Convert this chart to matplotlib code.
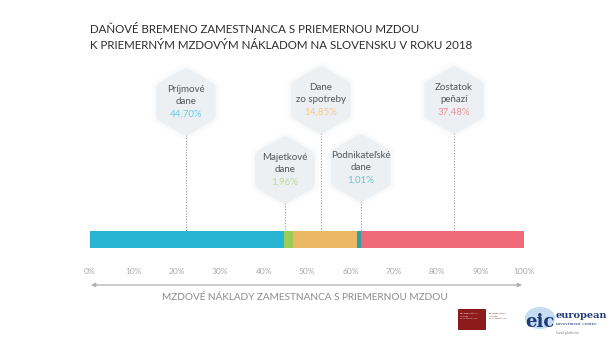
import numpy as np
import matplotlib
matplotlib.use("Agg")
import matplotlib.pyplot as plt
from matplotlib.patches import Polygon, Rectangle, Ellipse
from matplotlib import transforms

# ---------------- data ----------------
title_lines = ["DAŇOVÉ BREMENO ZAMESTNANCA S PRIEMERNOU MZDOU",
               "K PRIEMERNÝM MZDOVÝM NÁKLADOM NA SLOVENSKU V ROKU 2018"]
categories = ["Príjmové\ndane", "Majetkové\ndane", "Dane\nzo spotreby",
              "Podnikateľské\ndane", "Zostatok\npeňazí"]
values = [44.70, 1.96, 14.85, 1.01, 37.48]
value_labels = ["44,70%", "1,96%", "14,85%", "1,01%", "37,48%"]
colors = ["#27B5D3", "#9DCB57", "#EBB865", "#2F9EA8", "#EE6A78"]
label_colors = ["#6ACBE2", "#B9DB8E", "#F1C98D", "#6CC2C8", "#F2909A"]
tick_values = list(range(0, 101, 10))
tick_labels = [f"{v}%" for v in tick_values]
axis_label = "MZDOVÉ NÁKLADY ZAMESTNANCA S PRIEMERNOU MZDOU"

# ---------------- layout ----------------
W, H = 613, 345
fig = plt.figure(figsize=(W / 100, H / 100), dpi=100)
fig.patch.set_facecolor("white")
FONT = ["Lato", "DejaVu Sans"]

bar_left, bar_right, bar_top, bar_bot = 90, 524, 231, 248
ax = fig.add_axes([bar_left / W, 1 - bar_bot / H, (bar_right - bar_left) / W,
                   (bar_bot - bar_top) / H])
lefts = np.concatenate([[0], np.cumsum(values)[:-1]])
ax.barh([0] * len(values), values, left=lefts, color=colors, height=1.0,
        edgecolor="none")
ax.set_xlim(0, 100)
ax.set_ylim(-0.5, 0.5)
ax.set_yticks([])
ax.set_xticks(tick_values)
ax.set_xticklabels(tick_labels, fontsize=6, color="#A8A8A8", family=FONT)
ax.tick_params(axis="x", length=0, pad=14.5)
for s in ax.spines.values():
    s.set_visible(False)

# overlay in pixel coordinates
ov = fig.add_axes([0, 0, 1, 1], zorder=-1)
ov.set_xlim(0, W)
ov.set_ylim(H, 0)
ov.axis("off")
ov.patch.set_alpha(0)
blend = transforms.blended_transform_factory(ax.transData, ov.transData)

# title
for i, t in enumerate(title_lines):
    ov.text(90, 29.5 + i * 16, t, fontsize=8.3, color="#2B2B2B", family=FONT,
            va="center", ha="left")

# hexagons
hex_x = [22.1, 44.9, 53.2, 62.4, 83.9]
hex_y = [102, 170, 100, 168, 100]
R = 0.265  # inches
ang = np.deg2rad(np.arange(6) * 60 + 90)
verts = np.column_stack([R * np.cos(ang), R * np.sin(ang)])

for i in range(len(categories)):
    xp, yp = hex_x[i], hex_y[i]
    off = fig.dpi_scale_trans + transforms.ScaledTranslation(xp, yp, blend)
    # glow
    for k, a in [(1.2, 0.05), (1.13, 0.07), (1.06, 0.09)]:
        ov.add_patch(Polygon(verts * k, closed=True, transform=off,
                             facecolor="#E2E6EC", edgecolor="#E2E6EC",
                             lw=10, joinstyle="round", alpha=a, zorder=2))
    ov.add_patch(Polygon(verts, closed=True, transform=off,
                         facecolor="#EDF0F3", edgecolor="#EDF0F3", lw=10,
                         joinstyle="round", zorder=3))
    # dotted line
    ov.plot([xp, xp], [yp + 33, bar_top], transform=blend, color="#9A9A9A",
            lw=0.8, ls=(0, (1, 1.5)), zorder=1)
    l1, l2 = categories[i].split("\n")
    ov.text(xp, yp - 12.5, l1, transform=blend, ha="center", va="center",
            fontsize=7, color="#555555", family=FONT, zorder=4)
    ov.text(xp, yp, l2, transform=blend, ha="center", va="center",
            fontsize=7, color="#555555", family=FONT, zorder=4)
    ov.text(xp, yp + 12.5, value_labels[i], transform=blend, ha="center",
            va="center", fontsize=7, color=label_colors[i], family=FONT,
            zorder=4)

# bottom arrow
ov.annotate("", xy=(522, 285), xytext=(91, 285),
            arrowprops=dict(arrowstyle="<|-|>", color="#B0B0B0", lw=0.9,
                            mutation_scale=6, shrinkA=0, shrinkB=0))
ov.text(305, 298, axis_label, ha="center", va="center", fontsize=7.2,
        color="#8C8C8C", family=FONT)

# logos (approximate)
ov.add_patch(Rectangle((458, 309), 28, 21, facecolor="#8E1B1B",
                       edgecolor="none"))
ov.text(460, 312, "KONZERVATÍVNY\nINŠTITÚT\nM. R. ŠTEFÁNIKA", fontsize=1.6,
        color="white", va="top", ha="left", family=FONT, linespacing=1.2)
ov.text(489, 312, "KONZERVATÍVNY\nINŠTITÚT\nM. R. ŠTEFÁNIKA", fontsize=1.6,
        color="#7A1A1A", va="top", ha="left", family=FONT, linespacing=1.2)
ov.add_patch(Ellipse((540, 318), 30, 22, facecolor="#B8D4EE",
                     edgecolor="none", alpha=0.8))
ov.text(540, 322, "eic", fontsize=13, color="#1F3A78", ha="center",
        va="center", family=["DejaVu Serif"], weight="bold")
ov.text(556, 316, "european", fontsize=7, color="#1F3A78", ha="left",
        va="center", family=["DejaVu Serif"], weight="bold")
ov.text(556, 324, "investment centre", fontsize=3.2, color="#1F3A78",
        ha="left", va="center", family=["DejaVu Serif"])
ov.text(556, 333, "fund platform", fontsize=2.8, color="#888888",
        ha="left", va="center", family=FONT)

fig.savefig("out.png", dpi=100, facecolor="white")
